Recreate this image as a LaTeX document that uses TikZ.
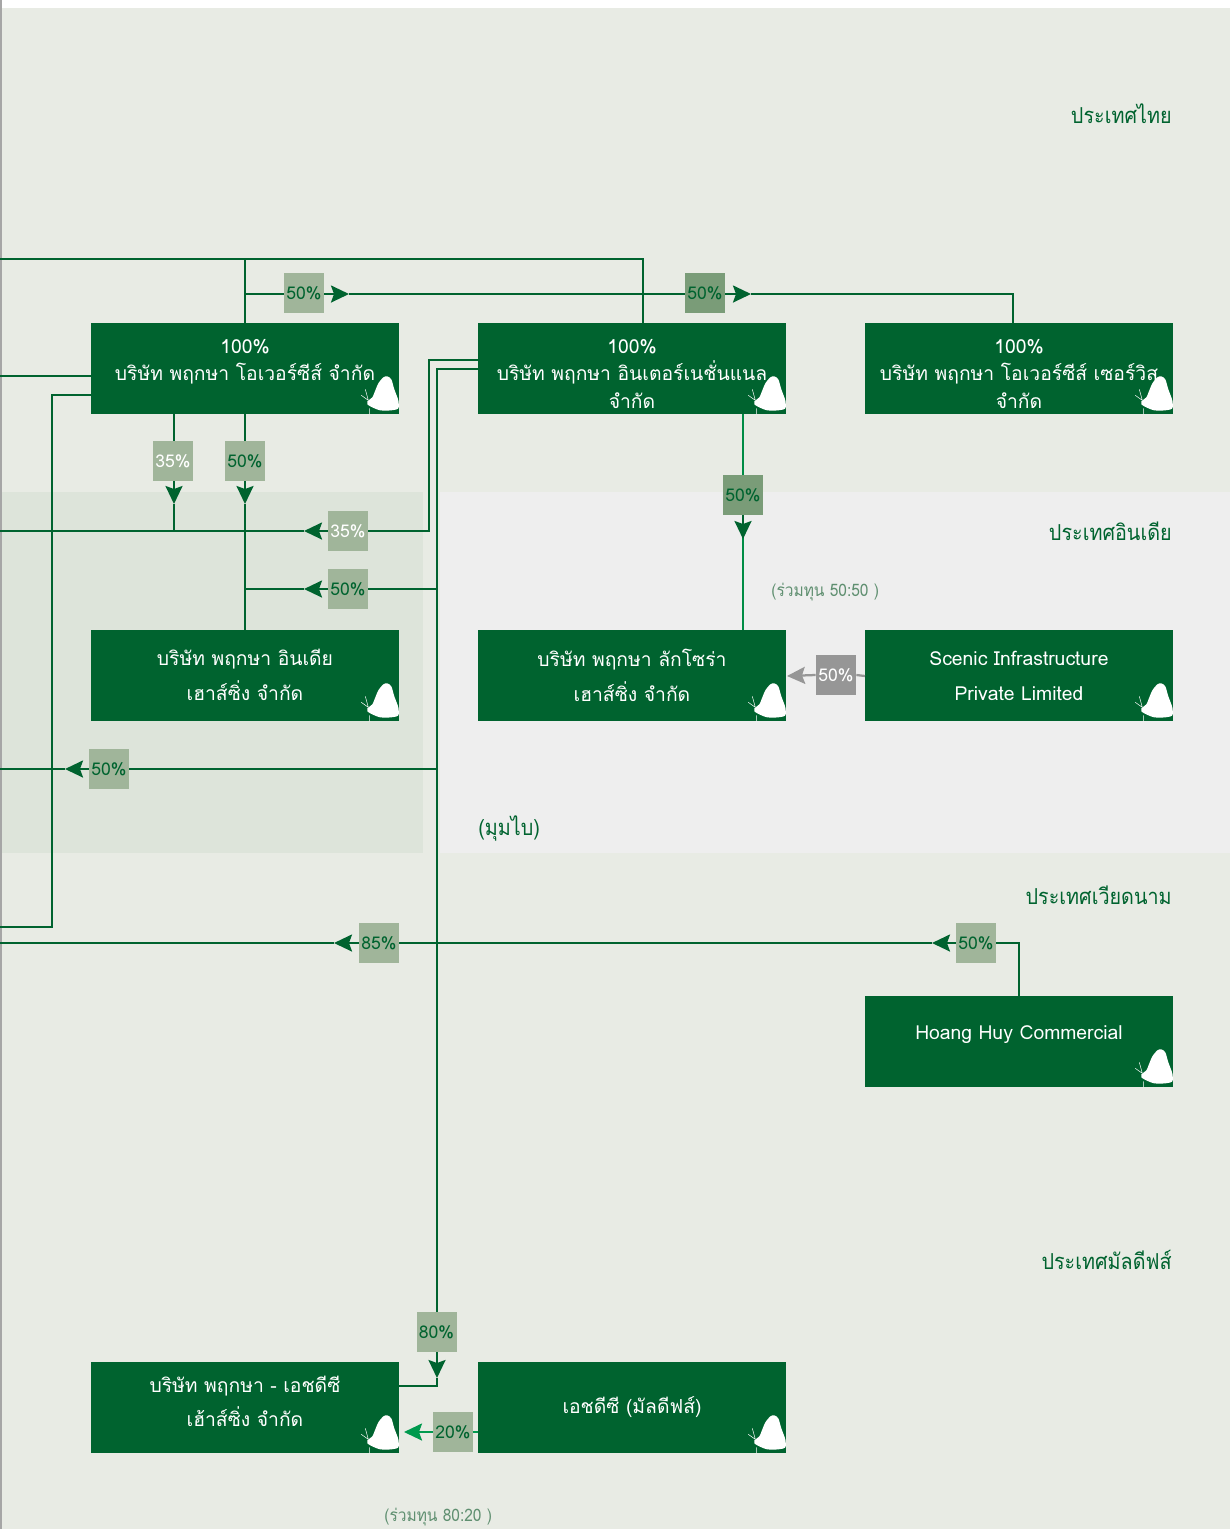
\documentclass[tikz,border=0pt]{standalone}
\usepackage{fontspec}
\setmainfont[Script=Thai]{Loma}
\newfontfamily\paysfont[Script=Thai,FakeStretch=0.9]{Loma}
\usetikzlibrary{arrows.meta}
\definecolor{cfond}{HTML}{E8EBE4}
\definecolor{cinde}{HTML}{EEEEEE}
\definecolor{cmumbai}{HTML}{DDE4DA}
\definecolor{cvert}{HTML}{00632F}
\definecolor{cclair}{HTML}{008C45}
\definecolor{cvif}{HTML}{009A4E}
\definecolor{cpct}{HTML}{A0B59A}
\definecolor{cpctb}{HTML}{7A9C78}
\definecolor{cgris}{HTML}{969696}
\definecolor{cnote}{HTML}{5F8F70}
\newcommand{\hautl}{\rule{0pt}{14pt}}
\tikzset{
  boxco/.style={fill=cvert,text=white,minimum width=6.16cm,minimum height=1.82cm,inner sep=0pt,align=center,font=\fontsize{11}{15.6}\selectfont},
  boxdeux/.style={boxco,font=\fontsize{11}{20}\selectfont},
  pct/.style={fill=cpct,text=cvert,minimum size=0.8cm,inner sep=0pt,font=\fontsize{10}{12}\selectfont},
  lien/.style={cvert,line width=0.045cm},
  pays/.style={text=cvert,anchor=east,inner sep=0pt,font=\paysfont\fontsize{12.5}{14}\selectfont},
  note/.style={text=cnote,anchor=west,inner sep=0pt,font=\paysfont\fontsize{9.8}{12}\selectfont},
}
\begin{document}
\begin{tikzpicture}[x=0.02cm,y=-0.02cm,>={Stealth[length=0.36cm,width=0.34cm,inset=0.06cm]}]
\useasboundingbox (0,0) rectangle (1230,1529);
% fonds
\fill[white] (0,0) rectangle (1230,1529);
\fill[cfond] (2,8) rectangle (1230,1529);
\fill[cinde] (440,492) rectangle (1230,853);
\fill[cmumbai] (2,492) rectangle (423,853);
\draw[gray!70,line width=0.03cm] (1,0) -- (1,1529);
% pays
\node[pays] (thai) at (1172,114) {ประเทศไทย};
\node[pays] (inde) at (1172,531) {ประเทศอินเดีย};
\node[pays] (viet) at (1172,895) {ประเทศเวียดนาม};
\node[pays] (mald) at (1172,1260) {ประเทศมัลดีฟส์};
\node[pays,anchor=west] (mumb) at (478,828) {(มุมไบ)};
\node[note] (jv) at (771,592) {(ร่วมทุน 50:50 )};
\node[note] (jvb) at (384,1517) {(ร่วมทุน 80:20 )};
% sociétés
\node[boxco] (over) at (245,368.5) {\hautl 100\%\\บริษัท พฤกษา โอเวอร์ซีส์ จำกัด\\\mbox{}};
\node[boxco] (inter) at (632,368.5) {\hautl 100\%\\บริษัท พฤกษา อินเตอร์เนชั่นแนล\\จำกัด};
\node[boxco] (serv) at (1019,368.5) {\hautl 100\%\\บริษัท พฤกษา โอเวอร์ซีส์ เซอร์วิส\\จำกัด};
\node[boxdeux] (indh) at (245,675.5) {บริษัท พฤกษา อินเดีย\\เฮาส์ซิ่ง จำกัด\\[-19pt]\mbox{}};
\node[boxdeux] (lux) at (632,675.5) {บริษัท พฤกษา ลักโซร่า\\เฮาส์ซิ่ง จำกัด};
\node[boxdeux] (scen) at (1019,675.5) {Scenic Infrastructure\\Private Limited};
\node[boxco] (hoang) at (1019,1041.5) {Hoang Huy Commercial\\[-5.6pt]\mbox{}};
\node[boxco,font=\fontsize{11}{19}\selectfont] (hdch) at (245,1407.5) {บริษัท พฤกษา - เอชดีซี\\เฮ้าส์ซิ่ง จำกัด\\[-12pt]\mbox{}};
\node[boxco] (hdc) at (632,1407.5) {เอชดีซี (มัลดีฟส์)};
\foreach \b in {over,inter,serv,indh,lux,scen,hoang,hdch,hdc}
  {\fill[white,shift={(\b.south east)}] plot[smooth cycle,tension=0.45] coordinates {(-12,-38) (-8,-35) (-5,-25) (-1,-14) (-1,-6) (-8,-4) (-19,-4) (-27,-7) (-32,-10) (-32,-13) (-27,-17) (-24,-24) (-21,-31) (-16,-37)};
   \draw[white,line width=0.01cm,shift={(\b.south east)}] (-31,-14) -- (-34,-25) (-31,-14) -- (-38,-19) (-30,-6) -- (-30,0);}
% pourcentages
\node[pct] (p1) at (304,293) {50\%};
\node[pct,fill=cpctb] (p2) at (705,293) {50\%};
\node[pct,text=white] (p3) at (173,461) {35\%};
\node[pct] (p4) at (245,461) {50\%};
\node[pct,fill=cpctb] (p5) at (743,495) {50\%};
\node[pct,text=white] (p6) at (348,531) {35\%};
\node[pct] (p7) at (348,589) {50\%};
\node[pct,fill=cgris,text=white] (p8) at (836,675) {50\%};
\node[pct] (p9) at (109,769) {50\%};
\node[pct] (p10) at (379,943) {85\%};
\node[pct] (p11) at (976,943) {50\%};
\node[pct] (p12) at (436.5,1332) {80\%};
\node[pct] (p13) at (453,1432) {20\%};
% bornes des liens
\coordinate (g1) at (0,259);   \coordinate (h1) at (643,259);  \coordinate (h2) at (643,323);
\coordinate (j1) at (245,259); \coordinate (j2) at (245,294);
\coordinate (t1) at (349,294); \coordinate (t2) at (751,294);  \coordinate (c1) at (1013,294); \coordinate (c2) at (1013,323);
\coordinate (g2) at (0,376);   \coordinate (o1) at (91,376);
\coordinate (o2) at (91,395);  \coordinate (o3) at (52,395);   \coordinate (o4) at (52,927);   \coordinate (g3) at (0,927);
\coordinate (a1) at (174,414); \coordinate (a2) at (174,504);  \coordinate (a3) at (174,531);
\coordinate (a4) at (245,504);
\coordinate (g4) at (0,531);   \coordinate (t3) at (304,531);
\coordinate (m1) at (429,531); \coordinate (m2) at (429,360);  \coordinate (m3) at (478,360);
\coordinate (n1) at (478,369); \coordinate (n2) at (437,369);  \coordinate (n3) at (437,589);  \coordinate (n4) at (437,769);
\coordinate (t4) at (304,589); \coordinate (n5) at (245,589);
\coordinate (t5) at (65,769);  \coordinate (g5) at (0,769);
\coordinate (n6) at (437,1378); \coordinate (n7) at (437,1386); \coordinate (n8) at (399,1386);
\coordinate (v1) at (743,414); \coordinate (v2) at (743,539);  \coordinate (v3) at (743,630);
\coordinate (s1) at (1019,943); \coordinate (t6) at (932,943); \coordinate (t7) at (334,943); \coordinate (g6) at (0,943);
\coordinate (e1) at (404,1432); \coordinate (e3) at (478,1432);
\coordinate (e4) at (787,676); \coordinate (e5) at (865,676);
% liens
\draw[lien] (g1) -- (h1) -- (h2);
\draw[lien] (j1) -- (over.north);
\draw[lien] (j2) -- (p1.west |- j2);
\draw[lien,->] (p1.east |- t1) -- (t1);
\draw[lien] (t1) -- (p2.west |- t1);
\draw[lien,->] (p2.east |- t2) -- (t2);
\draw[lien] (t2) -- (c1) -- (c2);
\draw[lien] (g2) -- (o1);
\draw[lien] (o2) -- (o3) -- (o4) -- (g3);
\draw[lien] (a1) -- (a1 |- p3.north);
\draw[lien,->] (a1 |- p3.south) -- (a2);
\draw[lien] (a2) -- (a3);
\draw[lien] (over.south) -- (p4.north);
\draw[lien,->] (p4.south) -- (a4);
\draw[lien] (a4) -- (indh.north);
\draw[lien] (g4) -- (t3);
\draw[lien,->] (p6.west) -- (t3);
\draw[lien] (p6.east) -- (m1) -- (m2) -- (m3);
\draw[lien] (n1) -- (n2) -- (n2 |- p12.north);
\draw[lien] (n3) -- (p7.east);
\draw[lien,->] (p7.west) -- (t4);
\draw[lien] (t4) -- (n5);
\draw[lien] (n4) -- (p9.east);
\draw[lien,->] (p9.west) -- (t5);
\draw[lien] (t5) -- (g5);
\draw[lien,->] (n2 |- p12.south) -- (n6);
\draw[lien] (n6) -- (n7) -- (n8);
\draw[lien,cclair] (v1) -- (p5.north);
\draw[lien,cclair] (p5.south) -- (v3);
\draw[lien,->] (p5.south) -- (v2);
\draw[lien] (hoang.north) -- (s1) -- (p11.east);
\draw[lien,->] (p11.west) -- (t6);
\draw[lien] (t6) -- (p10.east);
\draw[lien,->] (p10.west) -- (t7);
\draw[lien] (t7) -- (g6);
\draw[lien,cgris] (e5) -- (p8.east);
\draw[lien,cgris,->] (p8.west) -- (e4);
\draw[lien,cvif] (e3) -- (p13.east);
\draw[lien,cvif,->] (p13.west) -- (e1);
\end{tikzpicture}
\end{document}
